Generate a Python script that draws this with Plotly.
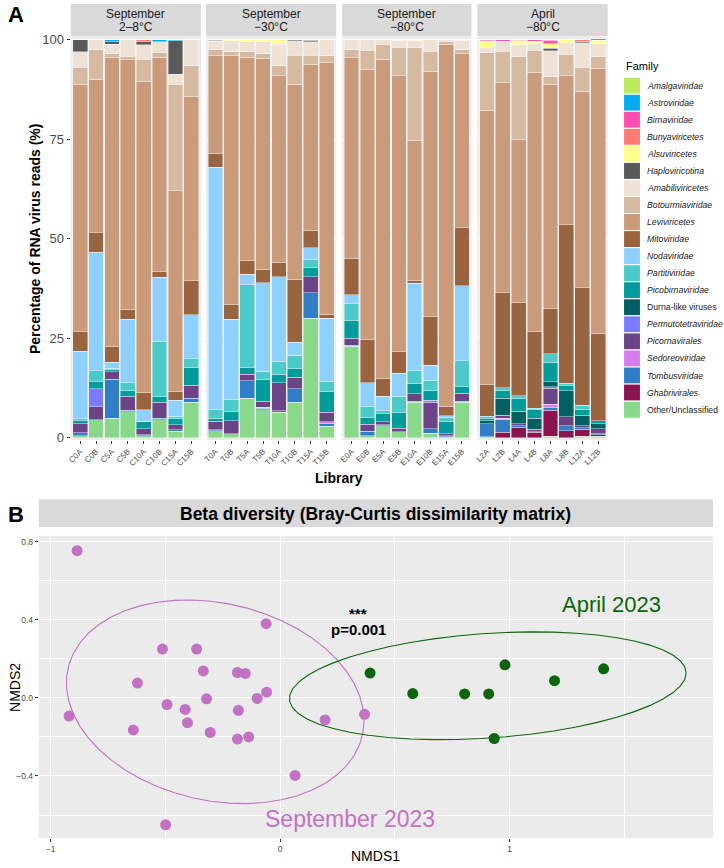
import numpy as np
import plotly.graph_objects as go

W, H = 724, 868
FONT = "Liberation Sans, Arial, Helvetica, sans-serif"

# ---------------- Panel A data ----------------
libraries = ["C0A", "C0B", "C5A", "C5B", "C10A", "C10B", "C15A", "C15B",
             "T0A", "T0B", "T5A", "T5B", "T10A", "T10B", "T15A", "T15B",
             "E0A", "E0B", "E5A", "E5B", "E10A", "E10B", "E15A", "E15B",
             "L2A", "L2B", "L4A", "L4B", "L8A", "L8B", "L12A", "L12B"]
facet_month = ["September", "September", "September", "April"]
facet_temp = ["2–8°C", "−30°C", "−80°C", "−80°C"]

families = ["Amalgaviridae", "Astroviridae", "Birnaviridae", "Bunyaviricetes",
            "Alsuviricetes", "Haploviricotina", "Amabiliviricetes", "Botourmiaviridae",
            "Leviviricetes", "Mitoviridae", "Nodaviridae", "Partitiviridae",
            "Picobirnaviridae", "Durna-like viruses", "Permutotetraviridae",
            "Picornavirales", "Sedoreoviridae", "Tombusviridae", "Ghabrivirales",
            "Other/Unclassified"]
family_colors = ["#B9EB5B", "#00AEEF", "#FF4FB3", "#FF7B74", "#FFFF8C", "#595959",
                 "#EEE1D6", "#D5B9A1", "#C99B7B", "#9B6441", "#8ED1FF", "#4CC9C9",
                 "#009B9B", "#005F60", "#7B7BFF", "#6B4487", "#D77BF0", "#2F7EC6",
                 "#8B1450", "#8AD88C"]
family_italic = [True] * 13 + [False] + [True] * 5 + [False]

amalgaviridae = [0, 0, 0, 0, 0, 0, 0, 0, 0, 0, 0, 0, 0, 0, 0, 0,
                 0, 0, 0, 0, 0, 0, 0, 0, 0, 0, 0, 0, 0, 0, 0, 0]
astroviridae = [0, 0, 0.6, 0, 0, 0.5, 0.3, 0, 0.2, 0, 0, 0, 0, 0, 0.2, 0,
                0, 0, 0, 0, 0, 0, 0, 0, 0, 0, 0, 0, 0.2, 0, 0, 0]
birnaviridae = [0, 0, 0, 0, 0, 0, 0, 0, 0, 0, 0, 0, 0, 0, 0, 0,
                0, 0, 0, 0, 0, 0, 0, 0, 0.3, 0.4, 0.2, 0.4, 0.8, 0, 0, 0.4]
bunyaviricetes = [0, 0, 0, 0, 0.6, 0, 0, 0, 0, 0, 0, 0, 0, 0, 0, 0,
                  0, 0, 0, 0, 0, 0, 0, 0, 0, 0, 0.2, 0, 0, 0, 0.4, 0]
alsuviricetes = [0, 0, 0, 0, 0, 0, 0, 0, 0, 0.3, 0.6, 0.5, 1.2, 0, 0, 0,
                 0, 0, 0, 0.2, 0.3, 0, 0, 0.2, 1.6, 0, 0.8, 0.7, 1.2, 0.8, 0, 0.8]
haploviricotina = [3.1, 0, 0.6, 0, 0.7, 0, 8.4, 0, 0.2, 0, 0, 0, 0, 0.3, 0.4, 0,
                   0, 0, 0, 0, 0, 0, 0, 0, 0, 0, 0, 0, 0.6, 0, 0.4, 0]
amabiliviricetes = [3.8, 2.5, 2.3, 4.3, 3.7, 2.7, 2.5, 6.6, 2.1, 2.8, 2.5, 3.0, 5.4, 3.6, 3.4, 4.1,
                    2.5, 2.7, 1.2, 1.7, 1.8, 2.9, 0.6, 2.4, 1.4, 2.5, 3.1, 1.6, 6.5, 2.9, 6.2, 3.3]
botourmiaviridae = [4.4, 7.4, 1.1, 0.8, 5.5, 1.2, 26.8, 7.7, 1.6, 1.0, 1.4, 1.2, 2.5, 7.3, 2.2, 1.7,
                    2.1, 4.7, 3.8, 7.2, 23.3, 5.0, 0.6, 1.0, 14.5, 8.0, 20.8, 5.6, 2.1, 5.4, 6.0, 2.9]
leviviricetes = [62.1, 38.6, 72.4, 62.6, 78.1, 53.7, 50.4, 46.3, 24.4, 62.3, 50.9, 53.1, 46.8, 49.0, 41.8, 63.2,
                 50.3, 68.0, 80.1, 69.3, 35.0, 61.5, 90.8, 43.5, 68.7, 52.7, 40.9, 65.0, 56.0, 37.4, 49.3, 66.5]
mitoviridae = [4.9, 4.9, 4.0, 2.5, 4.3, 1.6, 2.1, 8.5, 3.6, 3.8, 3.5, 3.3, 3.6, 15.8, 4.3, 0.9,
               9.1, 10.8, 4.5, 5.4, 0.8, 12.4, 2.4, 14.7, 8.1, 23.8, 23.4, 19.3, 11.5, 39.8, 29.5, 22.0]
nodaviridae = [16.9, 29.8, 1.5, 16.0, 2.9, 16.2, 4.1, 11.0, 60.8, 20.1, 2.7, 22.2, 21.2, 3.2, 3.0, 15.9,
               2.3, 5.9, 3.6, 5.8, 22.0, 3.7, 0.4, 18.8, 0, 0, 0, 0, 0, 0, 0, 0]
partitiviridae = [0.4, 2.7, 0.2, 1.8, 0.2, 13.8, 0.5, 2.2, 2.1, 3.1, 20.7, 2.1, 3.3, 3.4, 2.0, 2.5,
                  4.1, 2.7, 0.6, 4.0, 3.1, 2.5, 1.1, 6.4, 0.5, 0.7, 0.8, 0.3, 2.2, 0.6, 1.0, 0]
picobirnaviridae = [0.8, 1.7, 0.7, 1.5, 1.7, 1.4, 1.6, 4.5, 0.8, 2.3, 1.7, 5.4, 2.1, 2.2, 2.3, 5.2,
                    4.6, 1.8, 2.1, 4.0, 2.6, 2.5, 3.1, 1.8, 0.6, 2.0, 3.1, 2.2, 4.8, 1.2, 1.5, 0.7]
durna_like = [0, 0, 0, 0, 0, 0, 0, 0, 0, 0, 0, 0, 0, 0, 0, 0,
              0, 0, 0, 0, 0, 0, 0, 0, 0.8, 4.2, 3.2, 2.7, 1.2, 6.6, 2.7, 1.3]
permutotetraviridae = [0, 4.6, 0, 0, 0, 0, 0, 0, 0, 0, 0, 0, 0, 0, 0, 0,
                       0, 0, 0, 0, 0, 0.6, 0, 0, 0, 0, 0, 0, 0.4, 0, 0, 0]
picornavirales = [2.3, 3.2, 1.9, 3.6, 1.5, 4.0, 1.3, 3.3, 2.2, 3.3, 1.7, 1.5, 7.1, 2.8, 4.0, 2.4,
                  1.7, 1.7, 0.8, 0.8, 1.9, 6.6, 0.5, 2.0, 0, 0.7, 0.4, 0.6, 4.1, 2.3, 0.4, 1.3]
sedoreoviridae = [0, 0, 0, 0, 0, 0, 0, 0, 0, 0, 0, 0.3, 0, 0, 0, 0.4,
                  0, 0, 0, 0, 0, 0, 0, 0, 0, 0.3, 0, 0.2, 0.8, 0, 0, 0]
tombusviridae = [0.7, 0, 9.7, 0.3, 0.2, 0.3, 0.3, 0.9, 0.2, 0, 4.3, 0.3, 0.4, 3.4, 6.4, 0.8,
                 0.3, 1.1, 0.2, 0, 0.3, 1.1, 0.2, 0.3, 3.2, 3.3, 0.4, 0, 0.6, 1.2, 0.4, 0.2]
ghabrivirales = [0, 0, 0, 0, 0, 0, 0, 0, 0, 0, 0, 0, 0, 0, 0, 0,
                 0, 0, 0, 0, 0, 0, 0, 0, 0, 1.4, 2.7, 1.4, 6.6, 1.8, 1.8, 0.4]
other_unclassified = [0.6, 4.6, 5.0, 6.6, 0.6, 4.6, 1.7, 9.0, 1.8, 1.0, 10.0, 7.1, 6.4, 9.0, 30.0, 2.9,
                      23.0, 0.6, 3.1, 1.6, 8.9, 1.2, 0.3, 8.9, 0.3, 0, 0, 0, 0.4, 0, 0.4, 0.4]

series = [amalgaviridae, astroviridae, birnaviridae, bunyaviricetes, alsuviricetes,
          haploviricotina, amabiliviricetes, botourmiaviridae, leviviricetes, mitoviridae,
          nodaviridae, partitiviridae, picobirnaviridae, durna_like, permutotetraviridae,
          picornavirales, sedoreoviridae, tombusviridae, ghabrivirales, other_unclassified]

y_ticks_A = [0, 25, 50, 75, 100]

# ---------------- Panel B data ----------------
sep_nmds1 = [-0.92, -0.622, -0.513, -0.364, -0.335, -0.186, -0.152, -0.061, -0.059, -0.10,
             -0.493, -0.414, -0.321, -0.182, -0.404, 0.196, 0.368, -0.64, -0.305, -0.186,
             -0.137, 0.065, -0.499, -0.885]
sep_nmds2 = [-0.093, 0.076, 0.25, 0.25, 0.138, 0.13, 0.125, 0.38, 0.029, -0.003,
             -0.034, -0.059, -0.005, -0.064, -0.127, -0.113, -0.084, -0.164, -0.177, -0.211,
             -0.2, -0.397, -0.65, 0.754]
apr_nmds1 = [0.392, 0.578, 0.804, 0.909, 0.98, 1.196, 1.41, 0.933]
apr_nmds2 = [0.127, 0.022, 0.02, 0.02, 0.169, 0.088, 0.149, -0.208]

# 95% confidence ellipses: centre and shape matrix
sep_ellipse_center = [-0.283, -0.02]
sep_ellipse_shape = [[0.421, -0.063], [-0.063, 0.272]]
apr_ellipse_center = [0.905, 0.062]
apr_ellipse_shape = [[0.748, 0.0565], [0.0565, 0.0762]]

sep_color = "#C271C3"
apr_color = "#0B660B"
x_ticks_B = [-1, 0, 1]
y_ticks_B = [-0.4, 0.0, 0.4, 0.8]


def ellipse_path(center, shape, segments=51):
    R = np.linalg.cholesky(np.array(shape, dtype=float)).T
    ang = np.arange(segments + 1) * 2 * np.pi / segments
    circ = np.column_stack([np.cos(ang), np.sin(ang)])
    ell = np.array(center, dtype=float) + circ @ R
    return ell[:, 0], ell[:, 1]


def px_x(v):
    return v / W


def px_y(v):
    return 1 - v / H


fig = go.Figure()

# ---------------- Panel A bars ----------------
facet_px = [(67, 198), (203, 334), (340, 470), (476, 607)]
n_per = 8
for fi in reversed(range(len(families))):
    vals = series[fi]
    for k in range(4):
        xs = libraries[k * n_per:(k + 1) * n_per]
        ys = [v if v > 0 else None for v in vals[k * n_per:(k + 1) * n_per]]
        fig.add_trace(go.Bar(
            x=xs, y=ys, name=families[fi], legendgroup=families[fi],
            marker=dict(color=family_colors[fi], line=dict(color="white", width=0.4)),
            xaxis="x" if k == 0 else f"x{k + 1}", yaxis="y", showlegend=False,
        ))

# ---------------- Panel B ----------------
ex, ey = ellipse_path(sep_ellipse_center, sep_ellipse_shape)
fig.add_trace(go.Scatter(x=ex, y=ey, mode="lines", line=dict(color=sep_color, width=1.1),
                         xaxis="x5", yaxis="y2", showlegend=False, hoverinfo="skip"))
ex, ey = ellipse_path(apr_ellipse_center, apr_ellipse_shape)
fig.add_trace(go.Scatter(x=ex, y=ey, mode="lines", line=dict(color=apr_color, width=1.1),
                         xaxis="x5", yaxis="y2", showlegend=False, hoverinfo="skip"))
fig.add_trace(go.Scatter(x=sep_nmds1, y=sep_nmds2, mode="markers", name="September 2023",
                         marker=dict(color=sep_color, size=11), xaxis="x5", yaxis="y2",
                         showlegend=False))
fig.add_trace(go.Scatter(x=apr_nmds1, y=apr_nmds2, mode="markers", name="April 2023",
                         marker=dict(color=apr_color, size=11), xaxis="x5", yaxis="y2",
                         showlegend=False))

layout = dict(
    width=W, height=H, margin=dict(l=0, r=0, t=0, b=0),
    paper_bgcolor="white", plot_bgcolor="#EBEBEB",
    barmode="stack", bargap=0.07, showlegend=False,
    font=dict(family=FONT, color="#1a1a1a"),
)
for k, (x0, x1) in enumerate(facet_px):
    name = "xaxis" if k == 0 else f"xaxis{k + 1}"
    layout[name] = dict(
        domain=[px_x(x0), px_x(x1)], anchor="y", type="category",
        range=[-0.6, n_per - 0.4], tickangle=-45,
        tickfont=dict(size=8, color="#4d4d4d", family=FONT),
        ticks="outside", ticklen=3, tickcolor="#333333", showgrid=False,
        zeroline=False, showline=False,
    )
layout["yaxis"] = dict(
    domain=[px_y(441), px_y(33)], anchor="x", range=[-0.5, 100.74],
    tickvals=y_ticks_A, ticks="outside", ticklen=3, tickcolor="#333333",
    tickfont=dict(size=13, color="#4d4d4d", family=FONT),
    gridcolor="white", gridwidth=1, zeroline=False, showline=False,
)
layout["xaxis5"] = dict(
    domain=[px_x(35), px_x(713)], anchor="y2", range=[-1.052, 1.887],
    tickvals=x_ticks_B, ticktext=["−1", "0", "1"],
    ticks="outside", ticklen=3, tickcolor="#333333",
    tickfont=dict(size=8.5, color="#4d4d4d", family=FONT),
    gridcolor="white", gridwidth=1.1, zeroline=False, showline=False,
    minor=dict(tickvals=[-0.5, 0.5, 1.5], showgrid=True, gridcolor="white", gridwidth=0.5, ticks=""),
)
layout["yaxis2"] = dict(
    domain=[px_y(844), px_y(538)], anchor="x5", range=[-0.719, 0.830],
    tickvals=y_ticks_B, ticktext=["−0.4", "0.0", "0.4", "0.8"],
    ticks="outside", ticklen=3, tickcolor="#333333",
    tickfont=dict(size=8.5, color="#4d4d4d", family=FONT),
    gridcolor="white", gridwidth=1.1, zeroline=False, showline=False,
    minor=dict(tickvals=[-0.6, -0.2, 0.2, 0.6], showgrid=True, gridcolor="white", gridwidth=0.5, ticks=""),
)
fig.update_layout(**layout)

shapes = []
annotations = []


def ann(text, x, y, size, bold=False, color="#1a1a1a", xanchor="center", yanchor="middle",
        angle=0, xref="paper", yref="paper"):
    if bold:
        text = f"<b>{text}</b>"
    if xref == "paper":
        x = px_x(x)
    if yref == "paper":
        y = px_y(y)
    annotations.append(dict(text=text, x=x, y=y, xref=xref, yref=yref, showarrow=False,
                            xanchor=xanchor, yanchor=yanchor, textangle=angle,
                            font=dict(size=size, color=color, family=FONT)))


# facet strips
for k, (x0, x1) in enumerate(facet_px):
    shapes.append(dict(type="rect", xref="paper", yref="paper", x0=px_x(x0), x1=px_x(x1),
                       y0=px_y(32.5), y1=px_y(0), fillcolor="#D9D9D9", line=dict(width=0),
                       layer="below"))
    ann(facet_month[k], (x0 + x1) / 2, 10.5, 12, color="#1a1a1a")
    ann(facet_temp[k], (x0 + x1) / 2, 23.5, 12, color="#1a1a1a")

ann("A", 2, 11, 22, bold=True, color="black", xanchor="left")
ann("Percentage of RNA virus reads (%)", 31, 237, 14, bold=True, color="black", angle=-90)
ann("Library", 337, 480, 14, bold=True, color="black")

# legend (drawn manually to match ggplot key layout)
ann("Family", 623, 63, 11, color="black", xanchor="left")
key_top, key_h = 74.0, 17.25
for i, fam in enumerate(families):
    y0 = key_top + i * key_h
    shapes.append(dict(type="rect", xref="paper", yref="paper", x0=px_x(623), x1=px_x(640),
                       y0=px_y(y0 + key_h), y1=px_y(y0), fillcolor=family_colors[i],
                       line=dict(color="white", width=1)))
    label = f"<i>{fam}</i>" if family_italic[i] else fam
    ann(label, 645, y0 + key_h / 2, 8.7, color="#1a1a1a", xanchor="left")

# panel B strip / title
shapes.append(dict(type="rect", xref="paper", yref="paper", x0=px_x(35), x1=px_x(713),
                   y0=px_y(529), y1=px_y(501), fillcolor="#D9D9D9", line=dict(width=0)))
ann("Beta diversity (Bray-Curtis dissimilarity matrix)", 374, 515.5, 17.5, bold=True, color="black")
ann("B", 2, 516, 22, bold=True, color="black", xanchor="left")
ann("NMDS2", 11, 691, 14, color="black", angle=-90)
ann("NMDS1", 374, 862, 14, color="black")

# panel B text labels (data coordinates)
ann("***", 0.34, 0.43, 15, bold=True, color="black", xref="x5", yref="y2")
ann("p=0.001", 0.34, 0.349, 15, bold=True, color="black", xref="x5", yref="y2")
ann("April 2023", 1.444, 0.478, 22, color=apr_color, xref="x5", yref="y2")
ann("September 2023", 0.303, -0.619, 23, color=sep_color, xref="x5", yref="y2")

fig.update_layout(shapes=shapes, annotations=annotations)
fig.write_html("out.html")
